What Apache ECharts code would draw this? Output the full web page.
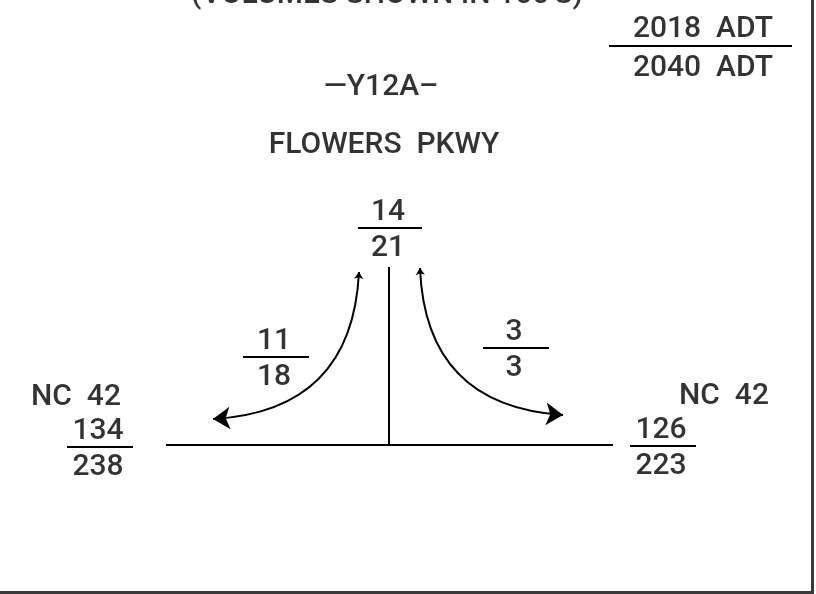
<!DOCTYPE html>
<html lang="en">
<head>
  <meta charset="UTF-8">
  <title>Y12A / Flowers Pkwy volumes</title>
  <style>
    html, body { margin: 0; padding: 0; background: #fff; }
    #chart { width: 816px; height: 594px; }
  </style>
  <script src="https://cdn.jsdelivr.net/npm/echarts@6/dist/echarts.min.js"></script>
</head>
<body>
  <div id="chart"></div>
  <script>
    // volume data (2018 over 2040), one entry per movement
    const movements = ['FLOWERS PKWY', 'LEFT TURN', 'RIGHT TURN', 'NC 42 WEST', 'NC 42 EAST'];
    const volumes2018 = [14, 11, 3, 134, 126];
    const volumes2040 = [21, 18, 3, 238, 223];

    // text on the sketch
    const noteText = "(VOLUMES SHOWN IN 100'S)";
    const legendLabels = ['2018  ADT', '2040  ADT'];
    const roadLabels = ['\u2014Y12A\u2013', 'FLOWERS  PKWY', 'NC  42', 'NC  42'];

    // layout: fraction bar centre x, bar y, half width (same order as movements)
    const fracPos = [[390, 228, 32], [276, 357, 33], [516, 348, 33], [100, 447, 33], [663, 446, 33]];
    const roadLabelPos = [[381, 87], [384, 145], [76, 397], [724, 396]];
    const legendPos = [[703, 29], [703, 68]];

    const font = { fontFamily: 'Roboto', fontSize: 30, fontWeight: 500, color: '#000' };

    const textPoints = [];
    movements.forEach((m, i) => {
      const [cx, by] = fracPos[i];
      textPoints.push({ name: String(volumes2018[i]), value: [cx - 2, by - 16] });
      textPoints.push({ name: String(volumes2040[i]), value: [cx - 2, by + 20] });
    });
    roadLabels.forEach((t, i) => textPoints.push({ name: t, value: roadLabelPos[i] }));
    legendLabels.forEach((t, i) => textPoints.push({ name: t, value: legendPos[i] }));
    textPoints.push({ name: noteText, value: [387, -5] });

    // straight strokes: roads, fraction bars, legend bar
    const segments = [
      { coords: [[166, 445], [613, 445]] },
      { coords: [[389, 267], [389, 445]] },
      { coords: [[609, 46], [792, 46]] }
    ];
    fracPos.forEach(([cx, by, hw]) => segments.push({ coords: [[cx - hw, by], [cx + hw, by]] }));

    const chart = echarts.init(document.getElementById('chart'));
    chart.setOption({
      animation: false,
      backgroundColor: '#fff',
      grid: { left: 0, right: 0, top: 0, bottom: 0 },
      xAxis: { type: 'value', min: 0, max: 816, show: false },
      yAxis: { type: 'value', min: 0, max: 594, inverse: true, show: false },
      series: [
        {
          type: 'lines',
          coordinateSystem: 'cartesian2d',
          symbol: 'none',
          lineStyle: { color: '#000', width: 2, opacity: 1 },
          data: segments
        },
        {
          // sheet border (right and bottom)
          type: 'lines',
          coordinateSystem: 'cartesian2d',
          symbol: 'none',
          lineStyle: { color: '#3a3a3a', width: 3, opacity: 1 },
          data: [
            { coords: [[812, 0], [812, 594]] },
            { coords: [[0, 592.5], [813, 592.5]] }
          ]
        },
        {
          // turning movement arrows
          type: 'lines',
          coordinateSystem: 'cartesian2d',
          symbol: ['arrow', 'arrow'],
          symbolSize: [7, 17],
          lineStyle: { color: '#000', width: 2, opacity: 1 },
          data: [
            { coords: [[359, 272], [213, 419]], lineStyle: { curveness: 0.45 } },
            { coords: [[420, 268], [563, 415]], lineStyle: { curveness: -0.45 } }
          ]
        },
        {
          type: 'scatter',
          clip: false,
          symbolSize: 0,
          silent: true,
          label: {
            show: true,
            position: 'inside',
            formatter: p => p.name,
            ...font
          },
          data: textPoints
        }
      ]
    });
  </script>
</body>
</html>
